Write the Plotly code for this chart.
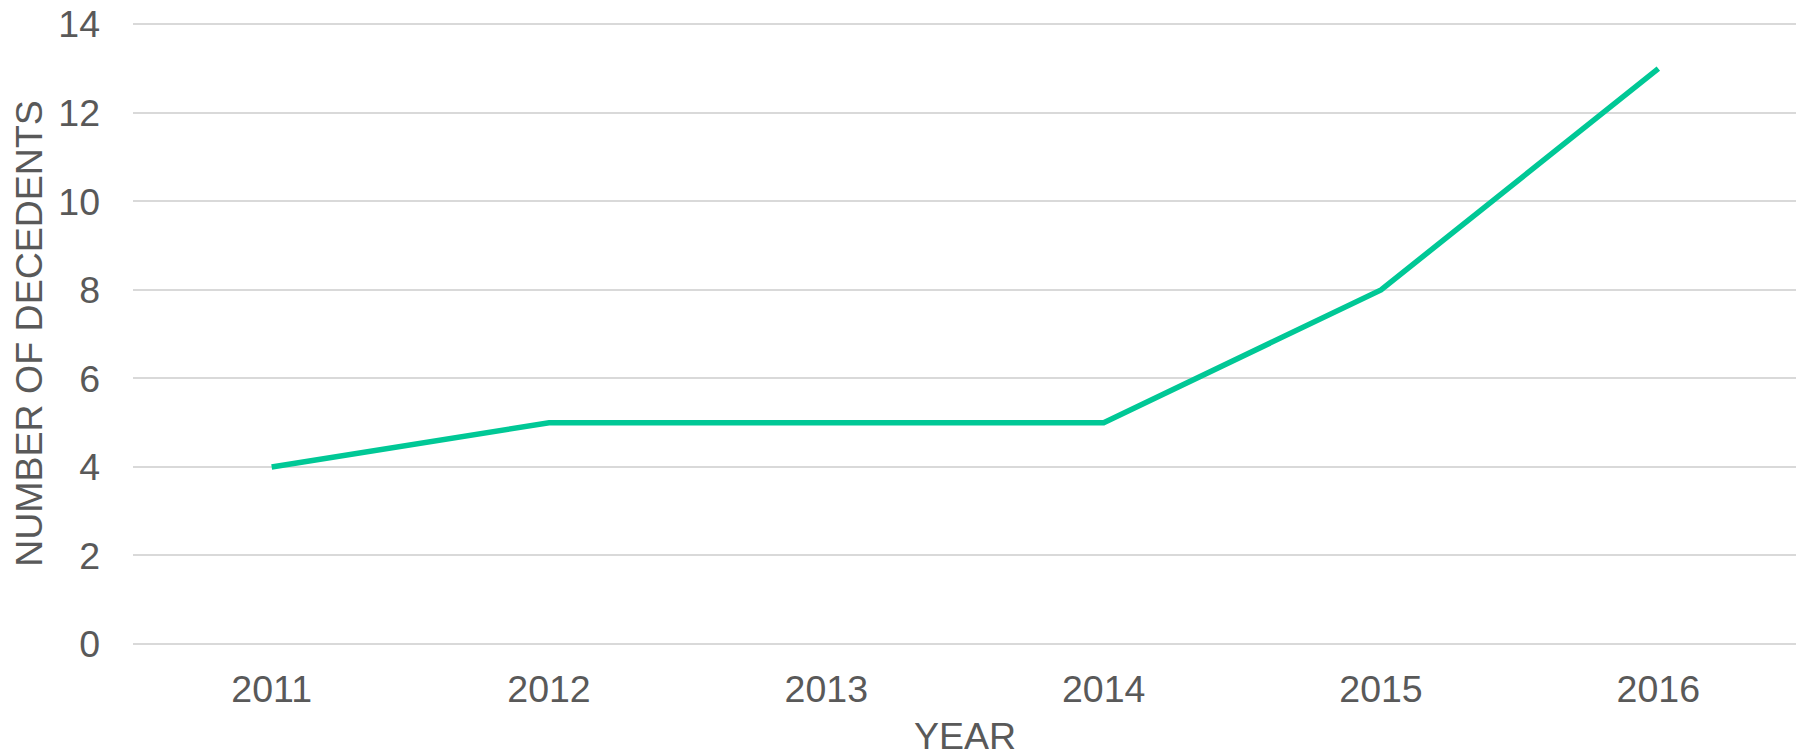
import plotly.graph_objects as go

# Data
years = ["2011", "2012", "2013", "2014", "2015", "2016"]
decedents = [4, 5, 5, 5, 8, 13]
y_ticks = [0, 2, 4, 6, 8, 10, 12, 14]

text_grey = "#595959"
grid_grey = "#d9d9d9"

fig = go.Figure(go.Scatter(
    x=years,
    y=decedents,
    mode="lines",
    line=dict(color="#00c896", width=5.5),
    hoverinfo="x+y",
))

# page body has an 8px margin, so margins are shifted to compensate
fig.update_layout(
    width=1804,
    height=755,
    margin=dict(l=125, r=15, t=15, b=119),
    plot_bgcolor="white",
    paper_bgcolor="white",
    font=dict(family="Liberation Sans, Arial", color=text_grey, size=37.5),
    showlegend=False,
)

fig.update_xaxes(
    type="category",
    range=[-0.5, 5.5],
    automargin=False,
    showgrid=False,
    showline=False,
    zeroline=False,
    ticks="",
    ticklabelstandoff=19,
    tickfont=dict(size=37.5, color=text_grey),
    title=dict(text="YEAR", font=dict(size=37.5, color=text_grey), standoff=14),
)

fig.update_yaxes(
    range=[0, 14.03],
    tickvals=y_ticks,
    automargin=False,
    showgrid=True,
    gridcolor=grid_grey,
    gridwidth=1.5,
    zeroline=True,
    zerolinecolor=grid_grey,
    zerolinewidth=1.5,
    showline=False,
    ticks="",
    ticklabelstandoff=32,
    ticklabeloverflow="allow",
    tickfont=dict(size=37.5, color=text_grey),
    title=dict(text="NUMBER OF DECEDENTS", font=dict(size=37.5, color=text_grey), standoff=7),
)

fig.write_html("out.html")
